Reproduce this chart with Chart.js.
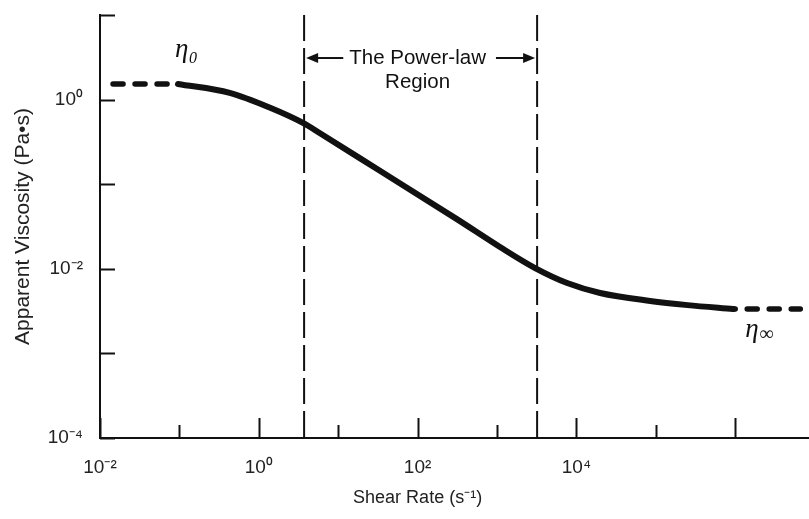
<!DOCTYPE html>
<html>
<head>
<meta charset="utf-8">
<script src="https://cdn.jsdelivr.net/npm/chart.js@4.4.1/dist/chart.umd.min.js"></script>
<style>
  html, body { margin: 0; padding: 0; background: #fff; }
  #wrap { width: 809px; height: 519px; }
</style>
</head>
<body>
<div id="wrap"><canvas id="chart"></canvas></div>
<script>
// flow curve (shear rate in 1/s, viscosity in Pa.s)
const shearRate = [0.096, 0.43, 1.39, 3.6, 5.9, 32, 316, 1090, 3020, 7640, 19900, 84900, 251000, 944000];
const viscosity = [1.53, 1.20, 0.80, 0.53, 0.40, 0.148, 0.0384, 0.0181, 0.0102, 0.00679, 0.00518, 0.00417, 0.00372, 0.00335];

// dashed plateaus (eta_0 and eta_inf)
const zeroShearRate = [0.0146, 0.096];
const zeroShearVisc = [1.53, 1.53];
const infShearRate  = [944000, 6600000];
const infShearVisc  = [0.00335, 0.00335];

// edges of the power-law region
const powerLawBounds = [3.72, 3200];

// axes
const xRange   = [0.01, 8.5e6];
const yRange   = [1e-4, 10];
const xDecades = [-2, -1, 0, 1, 2, 3, 4, 5, 6];
const yDecades = [-4, -3, -2, -1, 0, 1];
const xLabeled = [-2, 0, 2, 4];
const yLabeled = [-4, -2, 0];

const SUP = { '-': '\u207B', '0': '\u2070', '1': '\u00B9', '2': '\u00B2', '3': '\u00B3', '4': '\u2074' };
function powLabel(e) {
  return '10' + String(e).split('').map(c => SUP[c]).join('');
}

const INK  = '#111';
const SANS = '"Liberation Sans", Arial, Helvetica, sans-serif';
const SERIF = '"Liberation Serif", "Times New Roman", serif';

function pts(xs, ys) {
  return xs.map((v, i) => ({ x: v, y: ys[i] }));
}

function drawArrow(ctx, fromX, toX, yPos) {
  const dir = toX > fromX ? 1 : -1;
  ctx.beginPath();
  ctx.moveTo(fromX, yPos);
  ctx.lineTo(toX - dir * 8, yPos);
  ctx.stroke();
  ctx.beginPath();
  ctx.moveTo(toX, yPos);
  ctx.lineTo(toX - dir * 12, yPos - 5);
  ctx.lineTo(toX - dir * 12, yPos + 5);
  ctx.closePath();
  ctx.fill();
}

const decorPlugin = {
  id: 'decor',
  afterDatasetsDraw(chart) {
    const { ctx, chartArea } = chart;
    const x = chart.scales.x;
    const y = chart.scales.y;
    ctx.save();
    ctx.strokeStyle = INK;
    ctx.fillStyle = INK;
    ctx.lineWidth = 2;

    // tick marks point into the plot
    xDecades.forEach(e => {
      const px = Math.round(x.getPixelForValue(Math.pow(10, e))) + 0.5;
      const len = e % 2 === 0 ? 20 : 13;
      ctx.beginPath();
      ctx.moveTo(px, chartArea.bottom);
      ctx.lineTo(px, chartArea.bottom - len);
      ctx.stroke();
    });
    yDecades.forEach(e => {
      const py = Math.round(y.getPixelForValue(Math.pow(10, e))) + 0.5;
      ctx.beginPath();
      ctx.moveTo(chartArea.left, py);
      ctx.lineTo(chartArea.left + 15, py);
      ctx.stroke();
    });

    // power-law region label with arrows
    const left  = x.getPixelForValue(powerLawBounds[0]);
    const right = x.getPixelForValue(powerLawBounds[1]);
    const mid   = x.getPixelForValue(100);
    const ay    = y.getPixelForValue(3.1);
    ctx.font = '20.5px ' + SANS;
    ctx.textAlign = 'center';
    ctx.textBaseline = 'middle';
    ctx.fillText('The Power-law', mid, ay);
    ctx.fillText('Region', mid, ay + 24);
    const w = ctx.measureText('The Power-law').width;
    ctx.lineWidth = 2;
    drawArrow(ctx, mid - w / 2 - 6, left + 2, ay);
    drawArrow(ctx, mid + w / 2 + 10, right - 2, ay);

    // eta labels
    ctx.textAlign = 'left';
    ctx.textBaseline = 'alphabetic';
    let ex = x.getPixelForValue(0.088);
    let ey = y.getPixelForValue(3.2);
    ctx.font = 'italic 27px ' + SERIF;
    ctx.fillText('\u03B7', ex, ey);
    ctx.font = 'italic 16px ' + SERIF;
    ctx.fillText('0', ex + 14, ey + 6);

    ex = x.getPixelForValue(1.34e6);
    ey = y.getPixelForValue(0.00155);
    ctx.font = 'italic 27px ' + SERIF;
    ctx.fillText('\u03B7', ex, ey);
    ctx.font = '20px ' + SERIF;
    ctx.fillText('\u221E', ex + 14, ey + 3);

    // x axis title, centred under 10^2 like the original
    ctx.font = '18px ' + SANS;
    ctx.textAlign = 'center';
    ctx.textBaseline = 'middle';
    ctx.fillStyle = '#222';
    ctx.fillText('Shear Rate (s\u207B\u00B9)', x.getPixelForValue(100), chartArea.bottom + 60);
    ctx.restore();
  }
};

Chart.defaults.font.family = SANS;
Chart.defaults.color = '#222';

new Chart(document.getElementById('chart'), {
  type: 'line',
  data: {
    datasets: [
      {
        data: pts(shearRate, viscosity),
        borderColor: INK,
        borderWidth: 6,
        cubicInterpolationMode: 'monotone',
        borderCapStyle: 'round',
        pointRadius: 0,
      },
      {
        data: pts(zeroShearRate, zeroShearVisc),
        borderColor: INK,
        borderWidth: 5.5,
        borderDash: [10, 12],
        borderCapStyle: 'round',
        pointRadius: 0,
      },
      {
        data: pts(infShearRate, infShearVisc),
        borderColor: INK,
        borderWidth: 5.5,
        borderDash: [10, 12],
        borderDashOffset: -14,
        borderCapStyle: 'round',
        pointRadius: 0,
      },
      {
        data: [{ x: powerLawBounds[0], y: yRange[1] }, { x: powerLawBounds[0], y: yRange[0] }],
        borderColor: INK,
        borderWidth: 2,
        borderDash: [26, 7],
        pointRadius: 0,
      },
      {
        data: [{ x: powerLawBounds[1], y: yRange[1] }, { x: powerLawBounds[1], y: yRange[0] }],
        borderColor: INK,
        borderWidth: 2,
        borderDash: [26, 7],
        pointRadius: 0,
      },
    ],
  },
  options: {
    responsive: true,
    maintainAspectRatio: false,
    animation: false,
    layout: { padding: { top: 15, right: 0, bottom: 0, left: 0 } },
    plugins: {
      legend: { display: false },
      tooltip: { enabled: false },
    },
    scales: {
      x: {
        type: 'logarithmic',
        min: xRange[0],
        max: xRange[1],
        grid: { display: false, drawTicks: false },
        border: { display: true, color: INK, width: 2 },
        afterBuildTicks: s => { s.ticks = xDecades.map(e => ({ value: Math.pow(10, e) })); },
        afterFit: s => { s.height = 81; s.paddingLeft = 0; s.paddingRight = 0; },
        ticks: {
          autoSkip: false,
          maxRotation: 0,
          padding: 18,
          font: { size: 19 },
          callback: v => {
            const e = Math.round(Math.log10(v));
            return xLabeled.includes(e) ? powLabel(e) : '';
          },
        },
      },
      y: {
        type: 'logarithmic',
        min: yRange[0],
        max: yRange[1],
        grid: { display: false, drawTicks: false },
        border: { display: true, color: INK, width: 2 },
        afterBuildTicks: s => { s.ticks = yDecades.map(e => ({ value: Math.pow(10, e) })); },
        afterFit: s => { s.width = 100; s.paddingTop = 0; s.paddingBottom = 0; },
        ticks: {
          autoSkip: false,
          padding: 17,
          font: { size: 19 },
          callback: v => {
            const e = Math.round(Math.log10(v));
            return yLabeled.includes(e) ? powLabel(e) : '';
          },
        },
        title: {
          display: true,
          text: 'Apparent Viscosity (Pa\u2022s)',
          font: { size: 21 },
          padding: { top: 11, bottom: 0 },
        },
      },
    },
  },
  plugins: [decorPlugin],
});
</script>
</body>
</html>
